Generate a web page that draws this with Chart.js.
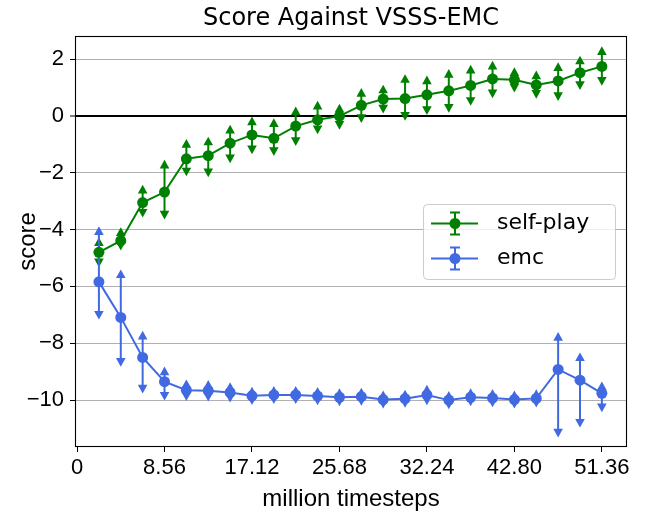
<!DOCTYPE html>
<html>
<head>
<meta charset="utf-8">
<script src="https://cdn.jsdelivr.net/npm/chart.js@4.4.0/dist/chart.umd.min.js"></script>
<style>
  html, body { margin: 0; padding: 0; background: #fff; }
</style>
</head>
<body>
<canvas id="scoreChart" width="648" height="516"></canvas>
<script>
// million timesteps at each evaluation
const steps = [2.14, 4.28, 6.42, 8.56, 10.70, 12.84, 14.98, 17.12, 19.26, 21.40, 23.54, 25.68,
               27.82, 29.96, 32.10, 34.24, 36.38, 38.52, 40.66, 42.80, 44.94, 47.08, 49.22, 51.36];

const selfPlay = [-4.80, -4.39, -3.05, -2.68, -1.51, -1.40, -0.96, -0.67, -0.79, -0.36, -0.14, -0.01,
                  0.37, 0.59, 0.61, 0.74, 0.88, 1.07, 1.30, 1.27, 1.09, 1.23, 1.52, 1.74];
const selfPlayErrUp = [0.37, 0.31, 0.47, 0.98, 0.54, 0.51, 0.49, 0.49, 0.55, 0.53, 0.51, 0.28,
                       0.45, 0.35, 0.70, 0.52, 0.61, 0.57, 0.48, 0.28, 0.35, 0.50, 0.44, 0.55];
const selfPlayErrDown = [0.37, 0.19, 0.37, 0.81, 0.46, 0.60, 0.55, 0.52, 0.46, 0.54, 0.35, 0.32,
                         0.46, 0.35, 0.62, 0.55, 0.61, 0.56, 0.52, 0.29, 0.33, 0.55, 0.45, 0.52];

const emc = [-5.84, -7.09, -8.50, -9.35, -9.65, -9.67, -9.73, -9.85, -9.82, -9.82, -9.86, -9.90,
             -9.88, -9.98, -9.95, -9.82, -10.00, -9.90, -9.93, -9.98, -9.94, -8.92, -9.30, -9.76];
const emcErrUp = [1.80, 1.53, 0.78, 0.37, 0.22, 0.22, 0.20, 0.16, 0.16, 0.16, 0.16, 0.16,
                  0.16, 0.16, 0.16, 0.20, 0.16, 0.16, 0.16, 0.16, 0.16, 1.16, 0.82, 0.26];
const emcErrDown = [1.17, 1.58, 1.11, 0.51, 0.22, 0.22, 0.20, 0.16, 0.16, 0.16, 0.16, 0.16,
                    0.16, 0.16, 0.16, 0.20, 0.16, 0.16, 0.16, 0.16, 0.16, 2.24, 1.51, 0.51];

const xTickValues = [0, 8.56, 17.12, 25.68, 34.24, 42.80, 51.36];
const xTickLabels = ['0', '8.56', '17.12', '25.68', '32.24', '42.80', '51.36'];
const yTickValues = [-10, -8, -6, -4, -2, 0, 2];

const GREEN = '#008000';
const BLUE = '#4169e1';
const tickFont = { family: 'Liberation Sans, Arial, sans-serif', size: 22 };
const labelFont = { family: 'Liberation Sans, Arial, sans-serif', size: 24, lineHeight: 1.2 };

function toPoints(xs, ys) {
    return xs.map((x, i) => ({ x: x, y: ys[i] }));
}

function arrowHead(ctx, x, y, dir) {
    // dir -1 points up, +1 points down; triangle centred on the bar end
    ctx.beginPath();
    ctx.moveTo(x, y + dir * 4.5);
    ctx.lineTo(x - 4.8, y - dir * 4.2);
    ctx.lineTo(x + 4.8, y - dir * 4.2);
    ctx.closePath();
    ctx.fill();
}

const errorBars = {
    id: 'errorBars',
    beforeDatasetsDraw(chart) {
        const ctx = chart.ctx;
        const yScale = chart.scales.y;
        const area = chart.chartArea;
        ctx.save();
        ctx.beginPath();
        ctx.rect(area.left, area.top, area.right - area.left, area.bottom - area.top);
        ctx.clip();
        chart.data.datasets.forEach((ds, di) => {
            const meta = chart.getDatasetMeta(di);
            ctx.strokeStyle = ds.borderColor;
            ctx.fillStyle = ds.borderColor;
            ctx.lineWidth = 2;
            meta.data.forEach((pt, i) => {
                const v = ds.data[i].y;
                const yTop = yScale.getPixelForValue(v + ds.errUp[i]);
                const yBot = yScale.getPixelForValue(v - ds.errDown[i]);
                ctx.beginPath();
                ctx.moveTo(pt.x, yTop);
                ctx.lineTo(pt.x, yBot);
                ctx.stroke();
                arrowHead(ctx, pt.x, yTop, -1);
                arrowHead(ctx, pt.x, yBot, 1);
            });
        });
        ctx.restore();
    }
};

const frameAndLegend = {
    id: 'frameAndLegend',
    afterDraw(chart) {
        const ctx = chart.ctx;
        const a = chart.chartArea;
        ctx.save();
        ctx.strokeStyle = '#000';
        ctx.lineWidth = 1.1;
        ctx.strokeRect(Math.round(a.left) + 0.5, Math.round(a.top) + 0.5,
                       Math.round(a.right - a.left) - 1, Math.round(a.bottom - a.top) - 1);

        // legend box
        const bx = 423, by = 204, bw = 192, bh = 75;
        ctx.beginPath();
        ctx.roundRect(bx + 0.5, by + 0.5, bw, bh, 4);
        ctx.fillStyle = 'rgba(255,255,255,0.8)';
        ctx.fill();
        ctx.strokeStyle = '#cccccc';
        ctx.lineWidth = 1;
        ctx.stroke();

        chart.data.datasets.forEach((ds, i) => {
            const cy = by + 19.5 + i * 35;
            ctx.strokeStyle = ds.borderColor;
            ctx.fillStyle = ds.borderColor;
            ctx.lineWidth = 2;
            ctx.beginPath();
            ctx.moveTo(431, cy);
            ctx.lineTo(478, cy);
            ctx.moveTo(455, cy - 11);
            ctx.lineTo(455, cy + 11);
            ctx.moveTo(450, cy - 11);
            ctx.lineTo(460, cy - 11);
            ctx.moveTo(450, cy + 11);
            ctx.lineTo(460, cy + 11);
            ctx.stroke();
            ctx.beginPath();
            ctx.arc(455, cy, 5.5, 0, Math.PI * 2);
            ctx.fill();
            ctx.fillStyle = '#000';
            ctx.font = '22px "DejaVu Sans"';
            ctx.textBaseline = 'middle';
            ctx.textAlign = 'left';
            ctx.fillText(ds.label, 497, cy);
        });
        ctx.restore();
    }
};

new Chart(document.getElementById('scoreChart').getContext('2d'), {
    type: 'line',
    data: {
        datasets: [
            {
                label: 'self-play',
                data: toPoints(steps, selfPlay),
                errUp: selfPlayErrUp,
                errDown: selfPlayErrDown,
                borderColor: GREEN,
                backgroundColor: GREEN,
                borderWidth: 2,
                pointRadius: 5.5,
                pointBorderWidth: 0,
                pointBackgroundColor: GREEN,
                tension: 0
            },
            {
                label: 'emc',
                data: toPoints(steps, emc),
                errUp: emcErrUp,
                errDown: emcErrDown,
                borderColor: BLUE,
                backgroundColor: BLUE,
                borderWidth: 2,
                pointRadius: 5.5,
                pointBorderWidth: 0,
                pointBackgroundColor: BLUE,
                tension: 0
            }
        ]
    },
    options: {
        responsive: false,
        animation: false,
        devicePixelRatio: 1,
        layout: { padding: { left: 0, right: 21, top: 0, bottom: 0 } },
        plugins: {
            legend: { display: false },
            tooltip: { enabled: false },
            title: {
                display: true,
                fullSize: false,
                text: 'Score Against VSSS-EMC',
                color: '#000',
                font: { family: 'DejaVu Sans', size: 24, weight: 'normal', lineHeight: 1.2 },
                padding: { top: 4, bottom: 3.2 }
            }
        },
        scales: {
            x: {
                type: 'linear',
                min: -0.2,
                max: 53.82,
                afterFit: s => { s.height = 69; },
                afterBuildTicks: s => { s.ticks = xTickValues.map(v => ({ value: v })); },
                border: { display: false },
                grid: {
                    drawOnChartArea: false,
                    drawTicks: true,
                    tickLength: 5,
                    tickColor: '#000',
                    tickWidth: 1
                },
                ticks: {
                    autoSkip: false,
                    maxRotation: 0,
                    padding: 3,
                    color: '#000',
                    font: tickFont,
                    callback: (v, i) => xTickLabels[i]
                },
                title: {
                    display: true,
                    text: 'million timesteps',
                    color: '#000',
                    font: labelFont,
                    padding: { top: 0, bottom: 2 }
                }
            },
            y: {
                min: -11.65,
                max: 2.81,
                afterFit: s => { s.width = 75; },
                afterBuildTicks: s => { s.ticks = yTickValues.map(v => ({ value: v })); },
                border: { display: false },
                grid: {
                    color: c => (c.tick && c.tick.value === 0) ? '#000' : '#b0b0b0',
                    lineWidth: c => (c.tick && c.tick.value === 0) ? 2 : 1,
                    drawTicks: true,
                    tickLength: 5,
                    tickColor: '#000',
                    tickWidth: 1
                },
                ticks: {
                    padding: 6,
                    color: '#000',
                    font: tickFont,
                    callback: v => (v < 0 ? '\u2212' + Math.abs(v) : String(v))
                },
                title: {
                    display: true,
                    text: 'score',
                    color: '#000',
                    font: labelFont,
                    padding: { top: 14, bottom: 0 }
                }
            }
        }
    },
    plugins: [errorBars, frameAndLegend]
});
</script>
</body>
</html>
